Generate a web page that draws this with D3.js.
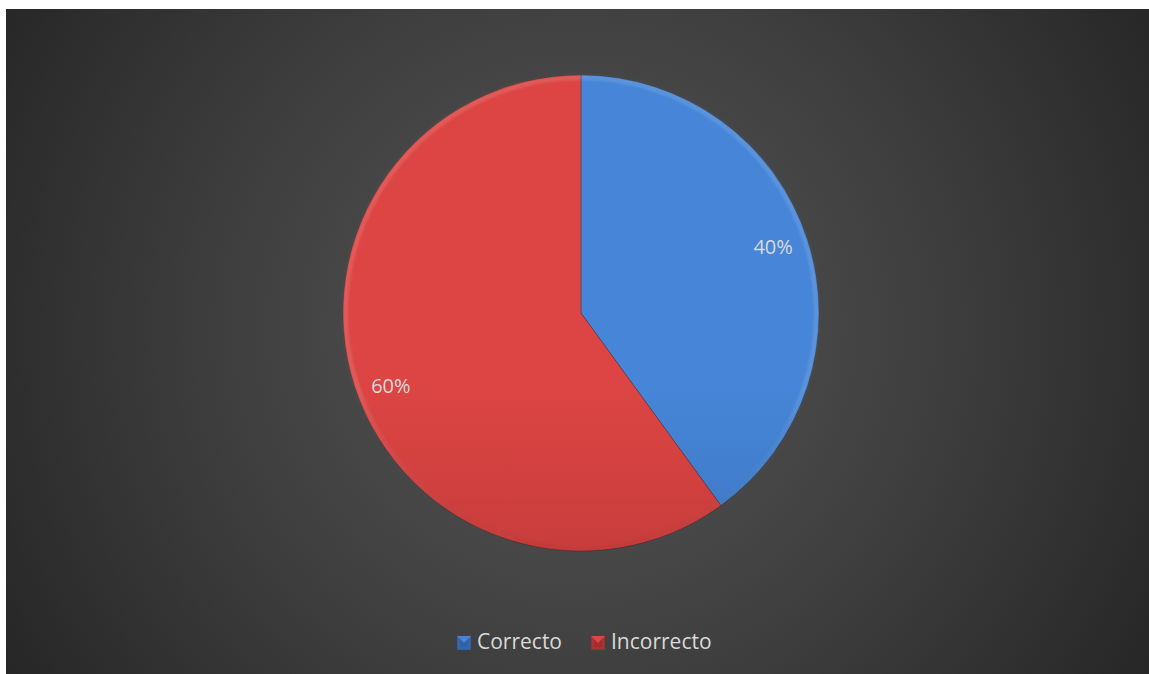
<!DOCTYPE html>
<html>
<head>
<meta charset="utf-8">
<script src="https://cdn.jsdelivr.net/npm/d3@7"></script>
<style>
  html, body { margin: 0; padding: 0; background: #ffffff; }
  svg { display: block; }
</style>
</head>
<body>
<svg id="chart" width="1149" height="674"></svg>
<script>
// Answer shares
const categories = ["Correcto", "Incorrecto"];
const values = [40, 60];
const labels = ["40%", "60%"];
const labelNudge = [[0, -4], [2, 11]];
const topColors = ["#4685d7", "#dc4543"];
const bottomColors = ["#3161a2", "#a02e2d"];

const W = 1149, H = 674;
const svg = d3.select("#chart");
const defs = svg.append("defs");

// Dark radial background panel
const bg = defs.append("radialGradient").attr("id", "bgGrad")
  .attr("gradientUnits", "userSpaceOnUse")
  .attr("cx", 578).attr("cy", 330).attr("r", 660);
bg.append("stop").attr("offset", "0").attr("stop-color", "#565656");
bg.append("stop").attr("offset", "0.55").attr("stop-color", "#3e3e3e");
bg.append("stop").attr("offset", "1").attr("stop-color", "#272727");

svg.append("rect")
  .attr("x", 6).attr("y", 9).attr("width", W - 6).attr("height", H - 9)
  .attr("fill", "url(#bgGrad)");

// Pie geometry
const cx = 581, cy = 313, R = 238;

// Per-slice vertical shading
categories.forEach((c, i) => {
  const g = defs.append("linearGradient").attr("id", "slice" + i)
    .attr("gradientUnits", "userSpaceOnUse")
    .attr("x1", 0).attr("y1", cy - R).attr("x2", 0).attr("y2", cy + R);
  g.append("stop").attr("offset", "0").attr("stop-color", topColors[i]);
  g.append("stop").attr("offset", "1").attr("stop-color", bottomColors[i]);
});

// Rim shading: light at the top, darker toward the bottom
const rim = defs.append("linearGradient").attr("id", "rimGrad")
  .attr("gradientUnits", "userSpaceOnUse")
  .attr("x1", 0).attr("y1", cy - R).attr("x2", 0).attr("y2", cy + R);
rim.append("stop").attr("offset", "0").attr("stop-color", "#ffffff").attr("stop-opacity", 0.12);
rim.append("stop").attr("offset", "0.45").attr("stop-color", "#000000").attr("stop-opacity", 0.0);
rim.append("stop").attr("offset", "1").attr("stop-color", "#000000").attr("stop-opacity", 0.3);

const soften = defs.append("filter").attr("id", "soften");
soften.append("feGaussianBlur").attr("stdDeviation", 1);

const pie = d3.pie().sort(null).value(d => d)
  .startAngle(0).endAngle(2 * Math.PI);
const arcs = pie(values);
const arc = d3.arc().innerRadius(0).outerRadius(R);
const rimArc = d3.arc().innerRadius(R - 5).outerRadius(R);
const labelArc = d3.arc().innerRadius(202).outerRadius(202);

const pieG = svg.append("g").attr("transform", `translate(${cx},${cy})`);

pieG.selectAll("path.slice")
  .data(arcs)
  .join("path")
  .attr("class", "slice")
  .attr("d", arc)
  .attr("fill", (d, i) => `url(#slice${i})`)
  .attr("stroke", "rgba(0,0,0,0.22)")
  .attr("stroke-width", 1);

pieG.selectAll("path.rim")
  .data(arcs)
  .join("path")
  .attr("class", "rim")
  .attr("d", rimArc)
  .attr("fill", "url(#rimGrad)")
  .attr("filter", "url(#soften)");

pieG.selectAll("text.lbl")
  .data(arcs)
  .join("text")
  .attr("class", "lbl")
  .attr("transform", (d, i) => {
    const [x, y] = labelArc.centroid(d);
    return `translate(${x + labelNudge[i][0]},${y + labelNudge[i][1]})`;
  })
  .attr("text-anchor", "middle")
  .attr("dy", "0.35em")
  .attr("font-family", "'Open Sans', 'Liberation Sans', sans-serif")
  .attr("font-size", 20)
  .attr("fill", "#d9d9d9")
  .text((d, i) => labels[i]);

// Legend
const legendX = [457, 591];
const legend = svg.append("g");
categories.forEach((c, i) => {
  const x = legendX[i], y = 636, s = 14;
  const g = legend.append("g");
  g.append("rect").attr("x", x).attr("y", y).attr("width", s).attr("height", s)
    .attr("fill", bottomColors[i]);
  // pyramid-style marker facets
  g.append("path")
    .attr("d", `M${x},${y}L${x + s},${y}L${x + s / 2},${y + s / 2}Z`)
    .attr("fill", topColors[i]);
  g.append("rect").attr("x", x + 2).attr("y", y + 2).attr("width", s - 4).attr("height", s - 4)
    .attr("fill", "none").attr("stroke", topColors[i]).attr("stroke-opacity", 0.35);
  g.append("text")
    .attr("x", x + s + 6).attr("y", y + 13)
    .attr("font-family", "'Open Sans', 'Liberation Sans', sans-serif")
    .attr("font-size", 21)
    .attr("fill", "#d9d9d9")
    .text(c);
});
</script>
</body>
</html>
